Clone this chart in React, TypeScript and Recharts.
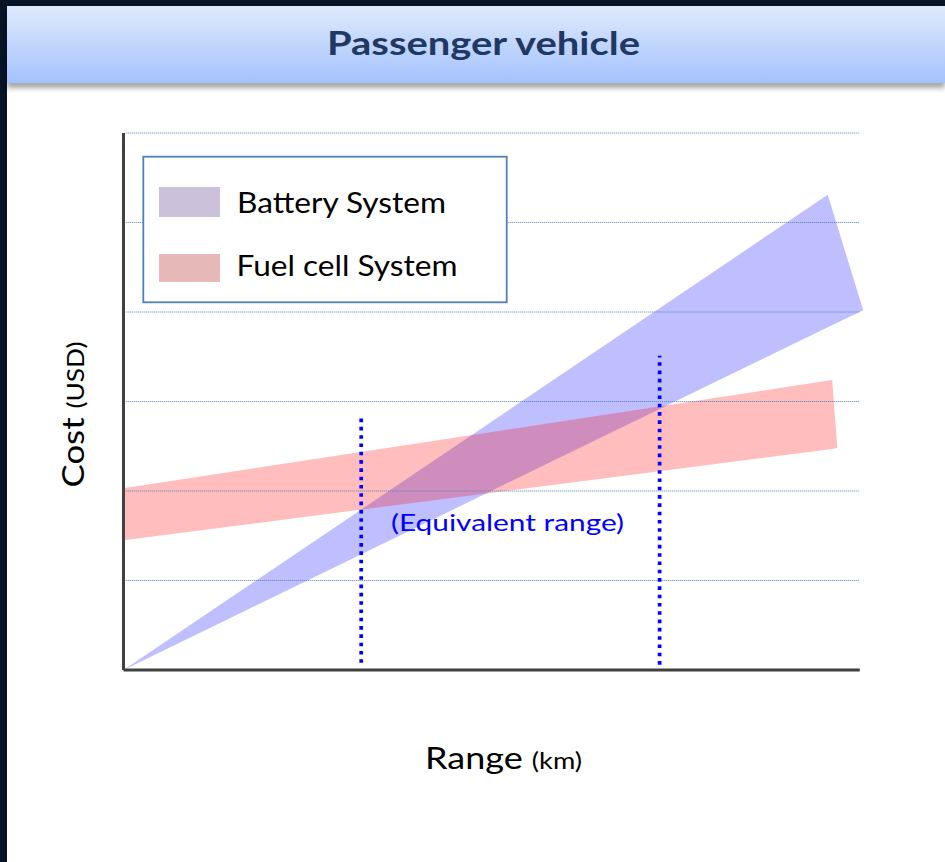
import React from 'react';
import { ComposedChart, Area, XAxis, YAxis, ReferenceLine, Legend } from 'recharts';

// Range axis normalised 0..100 across the plot, cost axis normalised 0..6 (one unit per grid line)
const batteryRange = [0, 95.1, 99.9];
const batteryCostLow = [0, 3.83, 4.02];
const batteryCostHigh = [0, 5.31, 4.02];

const fuelCellRange = [0, 95.7, 96.4];
const fuelCellCostLow = [1.45, 2.47, 2.48];
const fuelCellCostHigh = [2.03, 3.24, 2.48];

const equivalentRange = [32.1, 72.4];
const equivalentLineTop = [2.82, 3.51];
const equivalentLineBottom = [0.08, 0.06];

const costGridLines = [1, 2, 3, 4, 5, 6];

const legendNames = ['Battery System', 'Fuel cell System'];
const legendSwatches = ['#ccc1da', '#e6b9b8'];

const titleText = 'Passenger vehicle';
const xLabelMain = 'Range';
const xLabelUnit = '(km)';
const yLabelMain = 'Cost';
const yLabelUnit = '(USD)';
const annotationText = '(Equivalent range)';

const FONT = "Lato, 'Open Sans', sans-serif";
const AXIS_END = 99.43;
const GRID_START = 0.3;

const allRanges = Array.from(new Set([...batteryRange, ...fuelCellRange])).sort((a, b) => a - b);
const rows = allRanges.map((x) => {
  const bi = batteryRange.indexOf(x);
  const fi = fuelCellRange.indexOf(x);
  return {
    x,
    battery: bi >= 0 ? [batteryCostLow[bi], batteryCostHigh[bi]] : [null, null],
    fuel: fi >= 0 ? [fuelCellCostLow[fi], fuelCellCostHigh[fi]] : [null, null],
  };
});

const LegendBox = () => (
  <svg width={366} height={149} style={{ display: 'block' }}>
    <rect x={1.3} y={1.7} width={363.4} height={145.6} fill="#ffffff" stroke="#4f81bd" strokeWidth={1.8} />
    <rect x={17} y={32} width={61} height={30} fill={legendSwatches[0]} />
    <rect x={17} y={99} width={61} height={28} fill={legendSwatches[1]} />
    <text x={95} y={58.3} fontFamily={FONT} fontSize={28.5} fill="#000000" textLength={209} lengthAdjust="spacingAndGlyphs">
      {legendNames[0]}
    </text>
    <text x={94.5} y={121} fontFamily={FONT} fontSize={28.5} fill="#000000" textLength={221} lengthAdjust="spacingAndGlyphs">
      {legendNames[1]}
    </text>
  </svg>
);

export default function App() {
  return (
    <div style={{ position: 'absolute', left: 0, top: 0, width: 945, height: 862, background: '#ffffff', overflow: 'hidden' }}>
      <div style={{ position: 'absolute', left: 0, top: 0, width: 7, height: 862, background: '#071426' }} />
      <div style={{ position: 'absolute', left: 0, top: 0, width: 945, height: 6, background: '#071426' }} />
      <div
        style={{
          position: 'absolute',
          left: 7,
          top: 6,
          width: 938,
          height: 77,
          background: 'linear-gradient(#e0eafd, #a3c2fb)',
          boxShadow: '0 5px 5px rgba(0,0,0,0.35)',
        }}
      />
      <div style={{ position: 'absolute', left: 0, top: 0 }}>
        <ComposedChart
          width={945}
          height={862}
          data={rows}
          margin={{ top: 133, right: 81, bottom: 192, left: 123.5 }}
        >
          <XAxis type="number" dataKey="x" domain={[0, 100]} hide allowDataOverflow />
          <YAxis type="number" domain={[0, 6]} hide allowDataOverflow />
          {costGridLines.map((g) => (
            <ReferenceLine
              key={'g' + g}
              segment={[{ x: GRID_START, y: g }, { x: AXIS_END, y: g }]}
              stroke="#4f81bd"
              strokeWidth={1}
              strokeDasharray="1 1"
            />
          ))}
          <Area
            type="linear"
            dataKey="battery"
            name={legendNames[0]}
            stroke="none"
            fill="#0000ff"
            fillOpacity={0.25}
            connectNulls
            dot={false}
            activeDot={false}
            isAnimationActive={false}
          />
          <Area
            type="linear"
            dataKey="fuel"
            name={legendNames[1]}
            stroke="none"
            fill="#ff0000"
            fillOpacity={0.26}
            connectNulls
            dot={false}
            activeDot={false}
            isAnimationActive={false}
          />
          {equivalentRange.map((r, i) => (
            <ReferenceLine
              key={'e' + i}
              segment={[{ x: r, y: equivalentLineBottom[i] }, { x: r, y: equivalentLineTop[i] }]}
              stroke="#0000ff"
              strokeWidth={3.7}
              strokeDasharray="3.6 4.7"
            />
          ))}
          <ReferenceLine segment={[{ x: 0, y: 0 }, { x: 0, y: 6 }]} stroke="#404040" strokeWidth={3} />
          <ReferenceLine segment={[{ x: 0, y: 0 }, { x: AXIS_END, y: 0 }]} stroke="#404040" strokeWidth={3} />
          <Legend
            layout="horizontal"
            verticalAlign="middle"
            align="center"
            wrapperStyle={{ left: 142, top: 155, width: 366, height: 149 }}
            content={() => <LegendBox />}
          />
        </ComposedChart>
      </div>
      <svg width={945} height={862} style={{ position: 'absolute', left: 0, top: 0, pointerEvents: 'none' }}>
        <text
          x={327}
          y={55}
          fontFamily={FONT}
          fontWeight={700}
          fontSize={33}
          fill="#1f3864"
          textLength={313}
          lengthAdjust="spacingAndGlyphs"
        >
          {titleText}
        </text>
        <text
          x={391}
          y={530.5}
          fontFamily={FONT}
          fontSize={24}
          fill="#0000ff"
          textLength={233}
          lengthAdjust="spacingAndGlyphs"
        >
          {annotationText}
        </text>
        <text x={425} y={768.5} fontFamily={FONT} fill="#000000" textLength={157} lengthAdjust="spacingAndGlyphs">
          <tspan fontSize={30.5}>{xLabelMain} </tspan>
          <tspan fontSize={23}>{xLabelUnit}</tspan>
        </text>
        <text
          x={83.5}
          y={487.5}
          transform="rotate(-90 83.5 487.5)"
          fontFamily={FONT}
          fill="#000000"
          textLength={146}
          lengthAdjust="spacingAndGlyphs"
        >
          <tspan fontSize={30.5}>{yLabelMain} </tspan>
          <tspan fontSize={23}>{yLabelUnit}</tspan>
        </text>
      </svg>
    </div>
  );
}
